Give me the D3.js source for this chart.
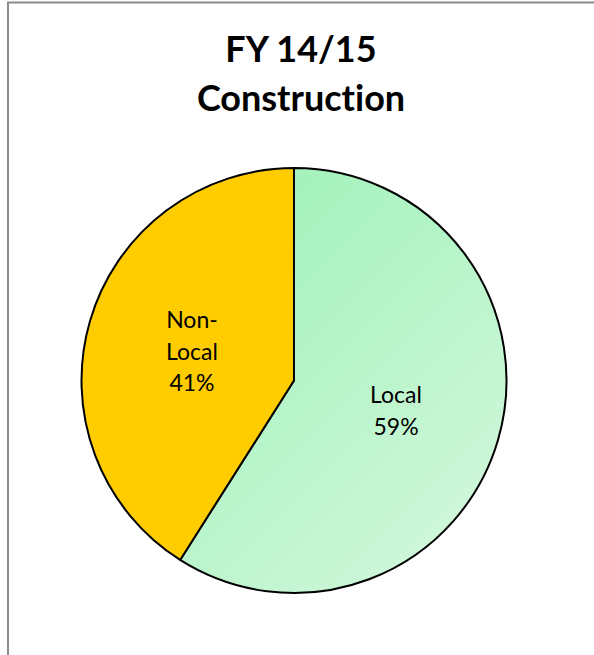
<!DOCTYPE html>
<html>
<head>
<meta charset="utf-8">
<script src="https://cdn.jsdelivr.net/npm/d3@7"></script>
<style>
  html, body { margin: 0; padding: 0; background: #fff; }
  svg { display: block; }
  text { font-variant-ligatures: none; }
</style>
</head>
<body>
<div id="chart"></div>
<script>
// chart data
const titleLines = ["FY 14/15", "Construction"];
const categories = ["Local", "Non-Local"];
const values = [59, 41];
const labelLines = [["Local", "59%"], ["Non-", "Local", "41%"]];

const width = 594, height = 655;
const cx = 294, cy = 380.5, radius = 212.5;

const svg = d3.select("#chart")
    .append("svg")
    .attr("width", width)
    .attr("height", height);

// frame of the chart area (runs past right and bottom edge)
svg.append("rect")
    .attr("x", 8)
    .attr("y", 2.5)
    .attr("width", 700)
    .attr("height", 700)
    .attr("fill", "none")
    .attr("stroke", "#8a8a8a")
    .attr("stroke-width", 2);

// gradient for the Local slice (coords are in the pie group's space)
const defs = svg.append("defs");
const grad = defs.append("linearGradient")
    .attr("id", "localFill")
    .attr("gradientUnits", "userSpaceOnUse")
    .attr("x1", -radius).attr("y1", -radius)
    .attr("x2", radius).attr("y2", radius);
grad.append("stop").attr("offset", "0%").attr("stop-color", "#93f0b1");
grad.append("stop").attr("offset", "100%").attr("stop-color", "#d7f8df");

const color = d3.scaleOrdinal()
    .domain(categories)
    .range(["url(#localFill)", "#ffcc00"]);

// title
svg.append("g")
    .selectAll("text")
    .data(titleLines)
    .enter()
    .append("text")
    .attr("x", 301)
    .attr("y", (d, i) => 62 + i * 49)
    .attr("text-anchor", "middle")
    .attr("font-family", "Lato, 'Open Sans', sans-serif")
    .attr("font-weight", "bold")
    .attr("font-size", 36)
    .attr("fill", "#000")
    .text(d => d);

const pie = d3.pie().sort(null).value(d => d.value);
const arcs = pie(categories.map((c, i) => ({ name: c, value: values[i], lines: labelLines[i] })));

const arc = d3.arc().innerRadius(0).outerRadius(radius);

const g = svg.append("g").attr("transform", `translate(${cx},${cy})`);

g.selectAll("path")
    .data(arcs)
    .enter()
    .append("path")
    .attr("d", arc)
    .attr("fill", d => color(d.data.name))
    .attr("stroke", "#000")
    .attr("stroke-width", 2)
    .attr("stroke-linejoin", "round");

// labels at the slice centroid
const lineH = 31.5;
const labels = g.selectAll("g.label")
    .data(arcs)
    .enter()
    .append("g")
    .attr("class", "label")
    .attr("transform", d => `translate(${arc.centroid(d)})`);

labels.each(function (d) {
    const n = d.data.lines.length;
    d3.select(this).selectAll("text")
        .data(d.data.lines)
        .enter()
        .append("text")
        .attr("x", 0)
        .attr("y", (t, i) => (i - (n - 1) / 2) * lineH + 9)
        .attr("text-anchor", "middle")
        .attr("font-family", "Lato, 'Open Sans', sans-serif")
        .attr("font-size", 23)
        .attr("fill", "#000")
        .text(t => t);
});
</script>
</body>
</html>
